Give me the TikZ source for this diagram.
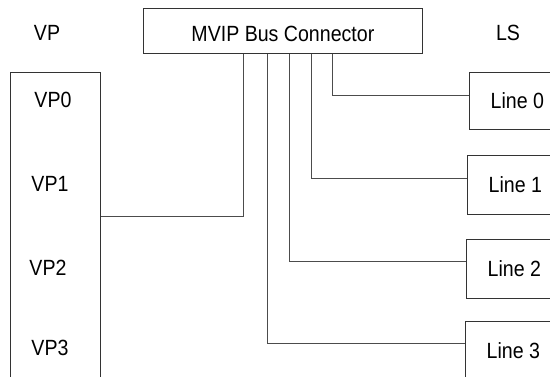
\documentclass[tikz,border=0pt]{standalone}
\usepackage{fontspec}
\setmainfont[FakeStretch=0.89]{Liberation Sans}
\usetikzlibrary{positioning}

\begin{document}
\begin{tikzpicture}[x=1pt, y=-1pt, font=\fontsize{22}{26}\selectfont,
  box/.style={draw=black!80, line width=0.8pt, inner sep=0pt},
  wire/.style={draw=black!70, line width=0.8pt}]
  \clip (0,0) rectangle (550,377);

  % Headings
  \node (vp) at (47,33) {VP};
  \node (ls) at (508,33) {LS};

  % Bus connector
  \node[box, anchor=north west, minimum width=279pt, minimum height=45pt,
        text height=21pt, text depth=0pt] (mvip) at (143,8) {MVIP Bus Connector};

  % VP block (runs off the bottom)
  \node[box, anchor=north west, minimum width=90pt, minimum height=330pt] (vpbox) at (10,72) {};
  \node (vp0) at (53,100) {VP0};
  \node (vp1) at (50,184) {VP1};
  \node (vp2) at (48,268) {VP2};
  \node (vp3) at (50,348) {VP3};

  % Line boxes (run off the right side)
  \node[box, anchor=north west, minimum width=96pt, minimum height=57pt] (line0) at (469,72) {Line 0};
  \node[box, anchor=north west, minimum width=96pt, minimum height=59pt] (line1) at (467,155) {Line 1};
  \node[box, anchor=north west, minimum width=96pt, minimum height=59pt] (line2) at (466,239) {Line 2};
  \node[box, anchor=north west, minimum width=96pt, minimum height=59pt] (line3) at (465,321) {Line 3};

  % Wires
  \draw[wire] (vpbox.east |- 0,216) -| (mvip.south -| 243,0);
  \draw[wire] (mvip.south -| 332,0) |- ([yshift=5.5pt]line0.west);
  \draw[wire] (mvip.south -| 311,0) |- ([yshift=6.5pt]line1.west);
  \draw[wire] (mvip.south -| 289,0) |- ([yshift=7.5pt]line2.west);
  \draw[wire] (mvip.south -| 267,0) |- ([yshift=7pt]line3.west);
\end{tikzpicture}
\end{document}
